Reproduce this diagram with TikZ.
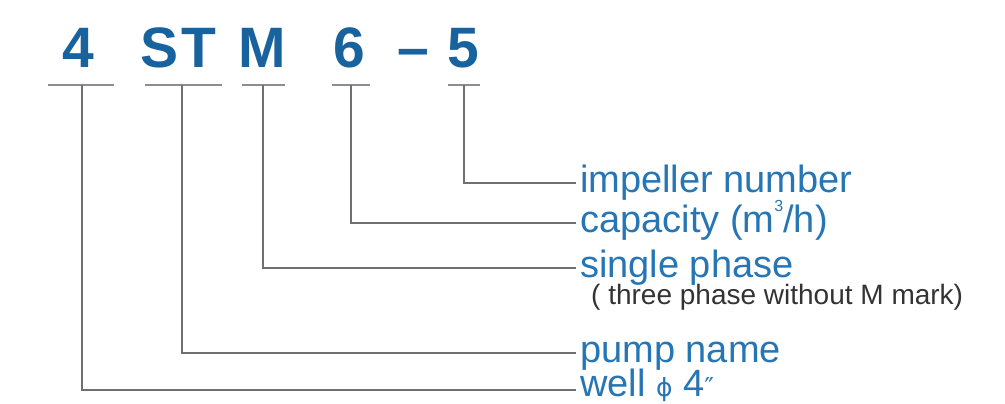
\documentclass[tikz,border=0pt]{standalone}
\usepackage{fontspec}
\setmainfont{Liberation Sans}
\newfontfamily\dv{DejaVu Sans}
\definecolor{titleblue}{RGB}{24,98,158}
\definecolor{labelblue}{RGB}{38,118,182}
\definecolor{linegray}{RGB}{112,112,112}
\begin{document}
\begin{tikzpicture}[x=1pt,y=-1pt,
  titlechar/.style={anchor=base,inner sep=0pt,text=titleblue,font=\fontsize{57}{57}\selectfont\bfseries},
  label/.style={anchor=base west,inner sep=0pt,text=labelblue,font=\fontsize{38}{38}\selectfont},
  note/.style={anchor=base west,inner sep=0pt,text=black!80,font=\fontsize{28}{28}\selectfont},
  uline/.style={draw=linegray!80,line width=2.5pt},
  conn/.style={draw=linegray,line width=2.6pt}]
\useasboundingbox (0,0) rectangle (1005,404);
% title characters
\node[titlechar] (c4) at (78.5,67) {4};
\node[titlechar] (cS) at (160,67) {S};
\node[titlechar] (cT) at (199,67) {T};
\node[titlechar] (cM) at (262,67) {M};
\node[titlechar] (c6) at (349,67) {6};
\node[titlechar] (cd) at (413,67) {–};
\node[titlechar] (c5) at (463,67) {5};
% underline centres
\coordinate (u4) at (82,85);
\coordinate (uST) at (182,85);
\coordinate (uM) at (263,85);
\coordinate (u6) at (351,85);
\coordinate (u5) at (464,85);
\draw[uline] (48,85) -- (114,85);
\draw[uline] (145,85) -- (222,85);
\draw[uline] (242,85) -- (285,85);
\draw[uline] (332,85) -- (370,85);
\draw[uline] (448,85) -- (480,85);
% line ends
\coordinate (e5) at (576,183);
\coordinate (e6) at (576,223);
\coordinate (eM) at (576,268);
\coordinate (eST) at (576,353);
\coordinate (e4) at (576,390);
% labels
\node[label] (limp) at (580,192) {impeller number};
\node[label] (lcap) at (580,232) {capacity (m\raisebox{0.55em}{\fontsize{16}{16}\selectfont 3}/h)};
\node[label] (lsin) at (580,277) {single phase};
\node[note] (lnote) at (591,304) {( three phase without M mark)};
\node[label] (lpump) at (580,362) {pump name};
\node[label] (lwell) at (580,396) {well {\dv\fontsize{25}{25}\selectfont ϕ} 4{\dv\fontsize{26}{26}\selectfont ″}};
% connectors
\draw[conn] (u5) |- (e5);
\draw[conn] (u6) |- (e6);
\draw[conn] (uM) |- (eM);
\draw[conn] (uST) |- (eST);
\draw[conn] (u4) |- (e4);
\end{tikzpicture}
\end{document}
